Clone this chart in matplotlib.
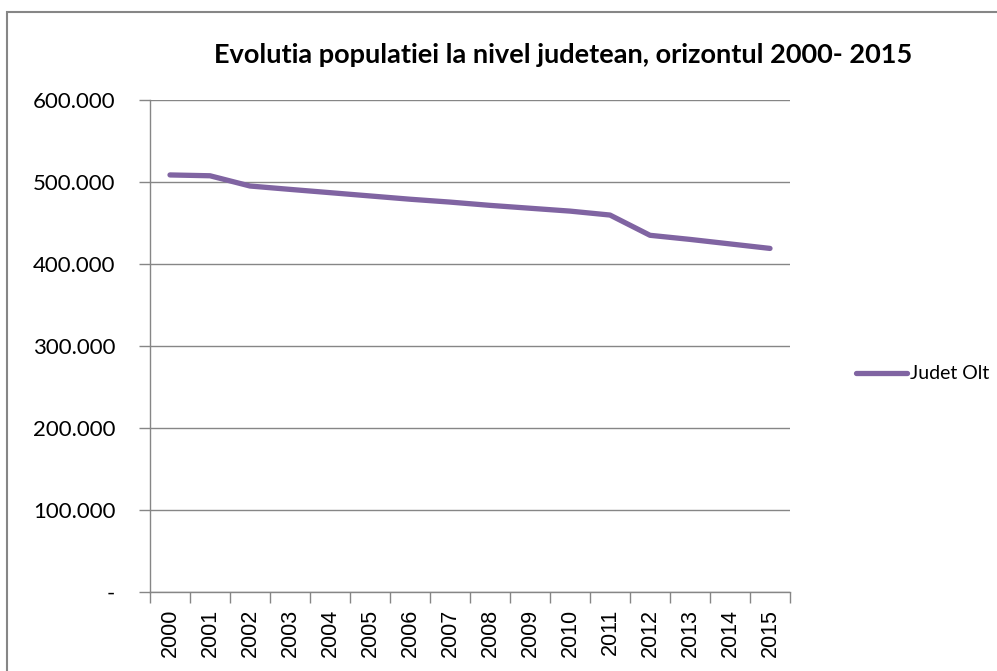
import matplotlib
matplotlib.use("Agg")
import matplotlib.pyplot as plt
from matplotlib.patches import Rectangle
from matplotlib.ticker import FuncFormatter, FixedLocator, NullFormatter

ani = ["2000", "2001", "2002", "2003", "2004", "2005", "2006", "2007",
       "2008", "2009", "2010", "2011", "2012", "2013", "2014", "2015"]
judet_olt = [508600, 507600, 495100, 491000, 487000, 483000, 479000, 475500,
             471500, 468000, 464500, 459700, 435000, 430000, 424500, 419000]
y_ticks = [0, 100000, 200000, 300000, 400000, 500000, 600000]

gri = "#868686"
mov = "#8064A2"

plt.rcParams["font.family"] = ["Liberation Sans", "DejaVu Sans"]

fig = plt.figure(figsize=(9.97, 6.71), dpi=100)
W, H = 997, 671
ax = fig.add_axes([150 / W, (H - 592) / H, 640 / W, 492 / H])

x = list(range(len(ani)))
ax.plot(x, judet_olt, color=mov, lw=3.8, solid_capstyle="round",
        solid_joinstyle="round", label="Judet Olt", zorder=3)

ax.set_xlim(-0.5, len(ani) - 0.5)
ax.set_ylim(0, 600000)

# categorii: liniile de tick intre ani, etichetele la mijloc
ax.xaxis.set_minor_locator(FixedLocator([i - 0.5 for i in range(len(ani) + 1)]))
ax.xaxis.set_minor_formatter(NullFormatter())
ax.set_xticks(x)
ax.set_xticklabels(ani, rotation=90, fontsize=15.5)
ax.tick_params(axis="x", which="minor", length=8, width=1, color=gri,
               direction="out")
ax.tick_params(axis="x", which="major", length=0, pad=12)

ax.set_yticks(y_ticks)
ax.yaxis.set_major_formatter(FuncFormatter(
    lambda v, p: "-" if v == 0 else f"{int(v):,}".replace(",", ".")))
ax.tick_params(axis="y", length=8, width=1, color=gri, direction="out",
               labelsize=16, pad=17)
for t in ax.get_yticklabels():
    t.set_family("Lato")

ax.yaxis.grid(True, color=gri, lw=1)
ax.set_axisbelow(True)
for s in ["top", "right"]:
    ax.spines[s].set_visible(False)
for s in ["left", "bottom"]:
    ax.spines[s].set_color(gri)
    ax.spines[s].set_linewidth(1)

fig.text(563 / W, 1 - 55 / H, "Evolutia populatiei la nivel judetean, orizontul 2000- 2015",
         ha="center", va="center", fontsize=19.5, fontweight="bold", family="Lato")

leg = fig.legend(loc="center left", bbox_to_anchor=(856 / W, 1 - 374 / H),
                 frameon=False, handlelength=2.6, handletextpad=0.2,
                 borderpad=0, borderaxespad=0,
                 prop={"family": "Lato", "size": 14})

fig.patches.append(Rectangle((7 / W, -0.01), 1.0, 1 - 12 / H + 0.01,
                             transform=fig.transFigure, fill=False,
                             edgecolor=gri, lw=1.5))

fig.savefig("out.png", dpi=100)
